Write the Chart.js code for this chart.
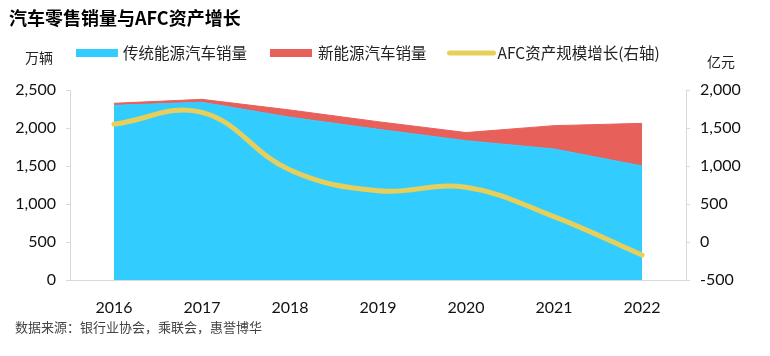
<!DOCTYPE html>
<html>
<head>
<meta charset="utf-8">
<script src="https://cdn.jsdelivr.net/npm/chart.js@4/dist/chart.umd.min.js"></script>
<style>
  html, body { margin: 0; padding: 0; background: #fff; }
  #wrap { width: 770px; height: 356px; position: relative; }
</style>
</head>
<body>
<div id="wrap"><canvas id="c" width="770" height="356"></canvas></div>
<script>
// ---- data ----
const years = ['2016', '2017', '2018', '2019', '2020', '2021', '2022'];
const traditionalSales = [2298, 2338, 2142, 1983, 1833, 1724, 1500];
const nevSales = [27, 39, 95, 100, 107, 307, 561];
const afcAssetGrowth = [1549, 1705, 947, 675, 720, 333, -171];
const leftTicks = [0, 500, 1000, 1500, 2000, 2500];
const rightTicks = [-500, 0, 500, 1000, 1500, 2000];

const seriesNames = ['传统能源汽车销量', '新能源汽车销量', 'AFC资产规模增长(右轴)'];
const titleText = '汽车零售销量与AFC资产增长';
const leftUnit = '万辆';
const rightUnit = '亿元';
const sourceText = '数据来源：银行业协会，乘联会，惠誉博华';

const BLUE = '#33CCFF';
const RED = '#E8605A';
const YELLOW = '#E6CF5A';
const AXIS = '#D9D9D9';
const CJK = '"Noto Sans CJK SC", "Noto Sans", sans-serif';
const NUM = 'Lato, "Noto Sans", sans-serif';

const fmt = v => Number(v).toLocaleString('en-US');

const decorPlugin = {
  id: 'decor',
  afterDraw(chart) {
    const ctx = chart.ctx;
    ctx.save();
    // title
    ctx.fillStyle = '#000';
    ctx.font = 'bold 18px ' + CJK;
    ctx.textBaseline = 'middle';
    ctx.textAlign = 'left';
    ctx.fillText(titleText, 9, 18);
    // units
    ctx.font = '14px ' + CJK;
    ctx.fillStyle = '#222';
    ctx.fillText(leftUnit, 25, 58);
    ctx.fillText(rightUnit, 707, 62);
    // source
    ctx.font = '13px ' + CJK;
    ctx.fillStyle = '#444';
    ctx.fillText(sourceText, 15, 327);
    // legend
    const ds = chart.data.datasets;
    const y = 53;
    let x = 76;
    ctx.font = '15.5px ' + CJK;
    // item 1
    ctx.fillStyle = ds[0].backgroundColor;
    ctx.fillRect(x, y - 4, 42, 8);
    x += 47;
    ctx.fillStyle = '#222';
    ctx.fillText(ds[0].label, x, y);
    x += ctx.measureText(ds[0].label).width + 23;
    // item 2
    ctx.fillStyle = ds[1].backgroundColor;
    ctx.fillRect(x, y - 4, 42, 8);
    x += 48;
    ctx.fillStyle = '#222';
    ctx.fillText(ds[1].label, x, y);
    x += ctx.measureText(ds[1].label).width + 21;
    // item 3 (line)
    ctx.strokeStyle = ds[2].borderColor;
    ctx.lineWidth = 5;
    ctx.lineCap = 'round';
    ctx.beginPath();
    ctx.moveTo(x + 2, y);
    ctx.lineTo(x + 46, y);
    ctx.stroke();
    x += 50;
    ctx.fillStyle = '#222';
    ctx.fillText(ds[2].label, x, y);
    ctx.restore();
  }
};

new Chart(document.getElementById('c'), {
  type: 'line',
  data: {
    labels: years,
    datasets: [
      {
        label: seriesNames[0],
        data: traditionalSales,
        yAxisID: 'y',
        backgroundColor: BLUE,
        borderColor: BLUE,
        borderWidth: 1,
        fill: 'origin',
        tension: 0,
        pointRadius: 0,
        order: 1
      },
      {
        label: seriesNames[1],
        data: nevSales,
        yAxisID: 'y',
        backgroundColor: RED,
        borderColor: RED,
        borderWidth: 1,
        fill: '-1',
        tension: 0,
        pointRadius: 0,
        order: 2
      },
      {
        label: seriesNames[2],
        data: afcAssetGrowth,
        yAxisID: 'y1',
        borderColor: YELLOW,
        backgroundColor: YELLOW,
        borderWidth: 5,
        borderCapStyle: 'round',
        borderJoinStyle: 'round',
        fill: false,
        tension: 0.4,
        pointRadius: 0,
        order: 0
      }
    ]
  },
  options: {
    responsive: false,
    animation: false,
    events: [],
    layout: { padding: { top: 90, left: 0, right: 0, bottom: 0 } },
    plugins: {
      legend: { display: false },
      title: { display: false },
      tooltip: { enabled: false }
    },
    scales: {
      x: {
        type: 'category',
        offset: true,
        grid: { display: false },
        border: { display: true, color: AXIS, width: 1 },
        ticks: { color: '#111', font: { family: NUM, size: 16 }, padding: 10, maxRotation: 0 },
        afterFit(s) { s.height = 76; }
      },
      y: {
        position: 'left',
        stacked: true,
        min: 0,
        max: 2500,
        afterBuildTicks(s) { s.ticks = leftTicks.map(v => ({ value: v })); },
        grid: { display: true, drawOnChartArea: false, drawTicks: true, tickLength: 4, color: AXIS },
        border: { display: true, color: AXIS, width: 1 },
        ticks: { color: '#111', font: { family: NUM, size: 16 }, padding: 10, callback: v => fmt(v) },
        afterFit(s) { s.width = 70; }
      },
      y1: {
        position: 'right',
        stacked: false,
        min: -500,
        max: 2000,
        afterBuildTicks(s) { s.ticks = rightTicks.map(v => ({ value: v })); },
        grid: { display: true, drawOnChartArea: false, drawTicks: true, tickLength: 4, color: AXIS },
        border: { display: true, color: AXIS, width: 1 },
        ticks: { color: '#111', font: { family: NUM, size: 16 }, padding: 10, callback: v => fmt(v) },
        afterFit(s) { s.width = 84; }
      }
    }
  },
  plugins: [decorPlugin]
});
</script>
</body>
</html>
